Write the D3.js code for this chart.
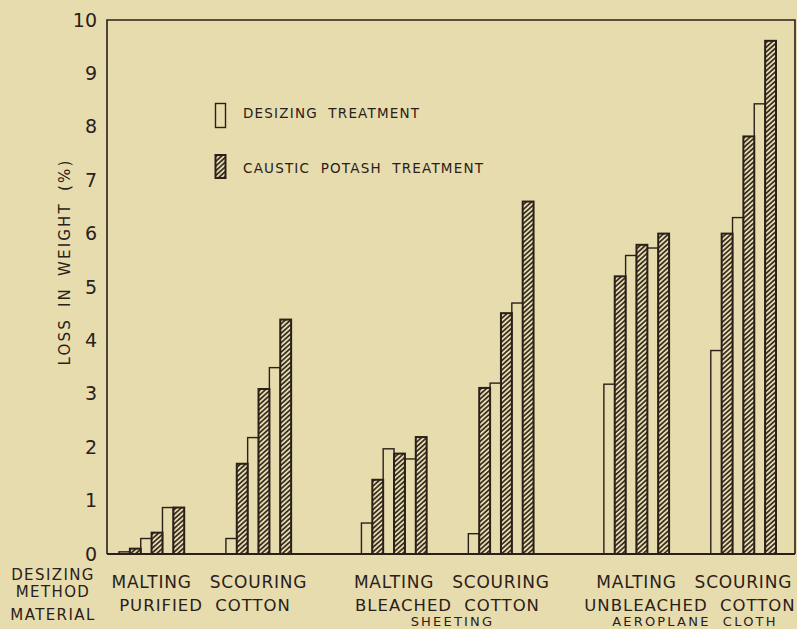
<!DOCTYPE html>
<html>
<head>
<meta charset="utf-8">
<script src="https://cdn.jsdelivr.net/npm/d3@7"></script>
<style>
  html, body { margin: 0; padding: 0; background: #e7dcae; }
  svg { display: block; }
  text { font-family: "DejaVu Sans", sans-serif; fill: #2a2019; }
</style>
</head>
<body>
<svg id="chart" width="797" height="629"></svg>
<script>
// ---- data ----
const materialsLine1 = ["PURIFIED COTTON", "BLEACHED COTTON", "UNBLEACHED COTTON"];
const materialsLine2 = ["", "SHEETING", "AEROPLANE CLOTH"];
const methods = ["MALTING", "SCOURING"];
const treatments = ["DESIZING TREATMENT", "CAUSTIC POTASH TREATMENT"];
// groups in order: material 0 malting, material 0 scouring, material 1 malting, ...
const desizingValues = [
  [0.04, 0.29, 0.87],
  [0.29, 2.18, 3.49],
  [0.58, 1.97, 1.78],
  [0.38, 3.20, 4.70],
  [3.18, 5.59, 5.73],
  [3.81, 6.30, 8.43]
];
const causticValues = [
  [0.10, 0.40, 0.87],
  [1.69, 3.09, 4.39],
  [1.39, 1.88, 2.19],
  [3.11, 4.51, 6.60],
  [5.20, 5.79, 6.00],
  [6.00, 7.82, 9.61]
];
const yTicks = [0, 1, 2, 3, 4, 5, 6, 7, 8, 9, 10];
const yTitle = "LOSS IN WEIGHT (%)";
const rowLabels = ["DESIZING", "METHOD", "MATERIAL"];

// ---- build bar records ----
const bars = [];
desizingValues.forEach((dv, g) => {
  dv.forEach((v, i) => {
    bars.push({ group: g, slot: i * 2, value: v, type: 0 });
    bars.push({ group: g, slot: i * 2 + 1, value: causticValues[g][i], type: 1 });
  });
});

const ink = "#2a2019";
const paper = "#e7dcae";
const svg = d3.select("#chart");

// ---- scales ----
const pLeft = 107, pRight = 795, pTop = 20, pBottom = 554;
const y = d3.scaleLinear().domain([0, 10]).range([pBottom, pTop]);
const xMat = d3.scaleBand().domain(d3.range(materialsLine1.length)).range([119, 776]).paddingInner(0.29).paddingOuter(0);
const xMeth = d3.scaleBand().domain(d3.range(methods.length)).range([0, xMat.bandwidth()]).paddingInner(0.39);
const xBar = d3.scaleBand().domain(d3.range(6)).range([0, xMeth.bandwidth()]);
const groupX = g => xMat(Math.floor(g / 2)) + xMeth(g % 2);

// ---- hatch pattern ----
const defs = svg.append("defs");
const pat = defs.append("pattern")
  .attr("id", "hatch")
  .attr("patternUnits", "userSpaceOnUse")
  .attr("width", 10).attr("height", 3.5)
  .attr("patternTransform", "rotate(-42)");
pat.append("rect").attr("width", 10).attr("height", 3.5).attr("fill", paper);
pat.append("line").attr("x1", 0).attr("x2", 10).attr("y1", 1.75).attr("y2", 1.75)
  .attr("stroke", ink).attr("stroke-width", 1.6);

// ---- frame ----
svg.append("rect").attr("x", 0).attr("y", 0).attr("width", 797).attr("height", 629).attr("fill", paper);
svg.append("path")
  .attr("d", `M${pLeft},${pBottom}V${pTop}H${pRight}V${pBottom}`)
  .attr("fill", "none").attr("stroke", ink).attr("stroke-width", 1.6);

// ---- bars ----
const gBars = svg.append("g");
const openBars = bars.filter(d => d.type === 0);
const hatchBars = bars.filter(d => d.type === 1);
gBars.selectAll("rect.open").data(openBars).join("rect")
  .attr("class", "open")
  .attr("x", d => groupX(d.group) + xBar(d.slot))
  .attr("y", d => y(d.value))
  .attr("width", xBar.bandwidth())
  .attr("height", d => y(0) - y(d.value))
  .attr("fill", paper).attr("stroke", ink).attr("stroke-width", 1.4);
gBars.selectAll("rect.hatch").data(hatchBars).join("rect")
  .attr("class", "hatch")
  .attr("x", d => groupX(d.group) + xBar(d.slot))
  .attr("y", d => y(d.value))
  .attr("width", xBar.bandwidth())
  .attr("height", d => y(0) - y(d.value))
  .attr("fill", "url(#hatch)").attr("stroke", ink).attr("stroke-width", 2);

// baseline
svg.append("line").attr("x1", pLeft).attr("x2", pRight).attr("y1", pBottom).attr("y2", pBottom)
  .attr("stroke", ink).attr("stroke-width", 1.8);

// ---- y axis ----
const yAxis = d3.axisLeft(y).tickValues(yTicks).tickSize(0).tickPadding(10).tickFormat(d3.format("d"));
const ga = svg.append("g").attr("transform", `translate(${pLeft},0)`).call(yAxis);
ga.select(".domain").remove();
ga.selectAll("text").attr("font-size", 19).attr("fill", ink)
  .style("font-family", "'DejaVu Sans', sans-serif");

svg.append("text")
  .attr("transform", `translate(70,262) rotate(-90)`)
  .attr("text-anchor", "middle")
  .attr("font-size", 15)
  .attr("letter-spacing", 2.2)
  .attr("word-spacing", 4)
  .text(yTitle);

// ---- legend ----
const legend = svg.append("g");
legend.append("rect").attr("x", 215.5).attr("y", 103.5).attr("width", 10).attr("height", 24)
  .attr("fill", paper).attr("stroke", ink).attr("stroke-width", 1.4);
legend.append("rect").attr("x", 215.5).attr("y", 155).attr("width", 10).attr("height", 23)
  .attr("fill", "url(#hatch)").attr("stroke", ink).attr("stroke-width", 2);
legend.selectAll("text.leg").data(treatments).join("text")
  .attr("class", "leg")
  .attr("x", 243)
  .attr("y", (d, i) => 118 + i * 54.5)
  .attr("font-size", 13.5)
  .attr("letter-spacing", 1.2)
  .attr("word-spacing", 5)
  .text(d => d);

// ---- bottom labels ----
const bl = svg.append("g");
const methodLabels = [];
for (let g = 0; g < desizingValues.length; g++) methodLabels.push({ g, label: methods[g % 2] });
bl.selectAll("text.meth").data(methodLabels).join("text")
  .attr("class", "meth")
  .attr("x", d => groupX(d.g) + xMeth.bandwidth() / 2)
  .attr("y", 588)
  .attr("text-anchor", "middle")
  .attr("font-size", 17)
  .attr("letter-spacing", 0.8)
  .text(d => d.label);
bl.selectAll("text.mat1").data(materialsLine1).join("text")
  .attr("class", "mat1")
  .attr("x", (d, i) => xMat(i) + xMat.bandwidth() / 2)
  .attr("y", 611)
  .attr("text-anchor", "middle")
  .attr("font-size", 16.5)
  .attr("letter-spacing", 1)
  .attr("word-spacing", 6)
  .text(d => d);
bl.selectAll("text.mat2").data(materialsLine2).join("text")
  .attr("class", "mat2")
  .attr("x", (d, i) => xMat(i) + xMat.bandwidth() / 2 + 5)
  .attr("y", 626)
  .attr("text-anchor", "middle")
  .attr("font-size", 13)
  .attr("letter-spacing", 2.2)
  .attr("word-spacing", 6)
  .text(d => d);
bl.selectAll("text.row").data(rowLabels).join("text")
  .attr("class", "row")
  .attr("x", 53)
  .attr("y", (d, i) => [580, 597, 620][i])
  .attr("text-anchor", "middle")
  .attr("font-size", 15)
  .attr("letter-spacing", 1.4)
  .text(d => d);
</script>
</body>
</html>
